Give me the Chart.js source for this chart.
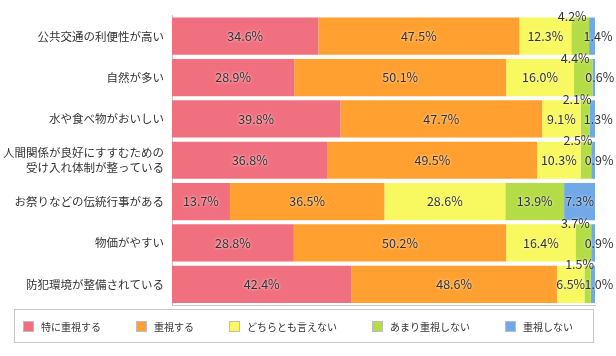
<!DOCTYPE html>
<html>
<head>
<meta charset="utf-8">
<script src="https://cdn.jsdelivr.net/npm/chart.js@4/dist/chart.umd.min.js"></script>
<style>
  html, body { margin: 0; padding: 0; background: #fff; }
  #wrap { position: relative; width: 616px; height: 356px; }
  #c { position: absolute; left: 0; top: 0; }
  #legend {
    position: absolute; left: 14px; top: 309px; width: 580px; height: 34px;
    box-sizing: border-box; border: 1px solid #c8c8c8;
    display: flex; align-items: center; padding-left: 8px; gap: 35px;
    font-family: "Noto Sans CJK JP", sans-serif; font-size: 10px; color: #333;
  }
  .item { display: flex; align-items: center; white-space: nowrap; }
  .sw { width: 11px; height: 11px; box-sizing: border-box; border: 1px solid #bdbdbd; margin-right: 7px; }
</style>
</head>
<body>
<div id="wrap">
  <canvas id="c" width="616" height="356"></canvas>
  <div id="legend"></div>
</div>
<script>
const categories = [
  '公共交通の利便性が高い',
  '自然が多い',
  '水や食べ物がおいしい',
  ['人間関係が良好にすすむための', '受け入れ体制が整っている'],
  'お祭りなどの伝統行事がある',
  '物価がやすい',
  '防犯環境が整備されている'
];
const seriesNames = ['特に重視する', '重視する', 'どちらとも言えない', 'あまり重視しない', '重視しない'];
const veryImportant = [34.6, 28.9, 39.8, 36.8, 13.7, 28.8, 42.4];
const important     = [47.5, 50.1, 47.7, 49.5, 36.5, 50.2, 48.6];
const neutral       = [12.3, 16.0, 9.1, 10.3, 28.6, 16.4, 6.5];
const notVery       = [4.2, 4.4, 2.1, 2.5, 13.9, 3.7, 1.5];
const notAtAll      = [1.4, 0.6, 1.3, 0.9, 7.3, 0.9, 1.0];

const seriesValues = [veryImportant, important, neutral, notVery, notAtAll];
const colors = ['#F0707F', '#FFA030', '#F8F860', '#B4DC46', '#70A8E8'];

const datasets = seriesNames.map((name, i) => ({
  label: name,
  data: seriesValues[i],
  backgroundColor: colors[i],
  borderWidth: 0,
  categoryPercentage: 0.9,
  barPercentage: 1.0
}));

const valueLabels = {
  id: 'valueLabels',
  afterDatasetsDraw(chart) {
    const ctx = chart.ctx;
    ctx.save();
    ctx.font = '12.5px "Noto Sans CJK JP", sans-serif';
    ctx.fillStyle = '#333';
    ctx.textAlign = 'center';
    ctx.textBaseline = 'middle';
    ctx.shadowColor = 'rgba(255,255,255,0.95)';
    ctx.shadowBlur = 3;
    chart.data.datasets.forEach((ds, i) => {
      const meta = chart.getDatasetMeta(i);
      meta.data.forEach((el, j) => {
        const v = ds.data[j];
        const p = el.getProps(['x', 'base', 'y', 'height'], true);
        let cx = (p.x + p.base) / 2;
        let cy = p.y;
        if (i === 3 && v < 5) { cx -= 8; cy = p.y - p.height / 2 - 1; }
        else if (i === 4 && v < 5) { cx += 6; }
        ctx.fillText(v.toFixed(1) + '%', cx, cy);
      });
    });
    ctx.restore();
  }
};

new Chart(document.getElementById('c'), {
  type: 'bar',
  data: { labels: categories, datasets },
  options: {
    indexAxis: 'y',
    responsive: false,
    animation: false,
    layout: { padding: { top: 9, right: 21, bottom: 51, left: 0 } },
    plugins: { legend: { display: false }, tooltip: { enabled: false } },
    scales: {
      x: {
        stacked: true, min: 0, max: 100,
        grid: { display: false, drawTicks: false },
        ticks: { display: false },
        border: { display: true, color: '#c8c8c8' }
      },
      y: {
        stacked: true,
        grid: { display: false, drawTicks: false },
        border: { display: true, color: '#c8c8c8' },
        ticks: {
          color: '#333', padding: 8,
          font: { family: '"Noto Sans CJK JP", sans-serif', size: 11.5, lineHeight: 1.3 }
        },
        afterFit(s) { s.width = 172; }
      }
    }
  },
  plugins: [valueLabels]
});

const legend = document.getElementById('legend');
seriesNames.forEach((name, i) => {
  const it = document.createElement('div');
  it.className = 'item';
  const sw = document.createElement('span');
  sw.className = 'sw';
  sw.style.background = colors[i];
  const tx = document.createElement('span');
  tx.textContent = name;
  it.appendChild(sw); it.appendChild(tx);
  legend.appendChild(it);
});
</script>
</body>
</html>
